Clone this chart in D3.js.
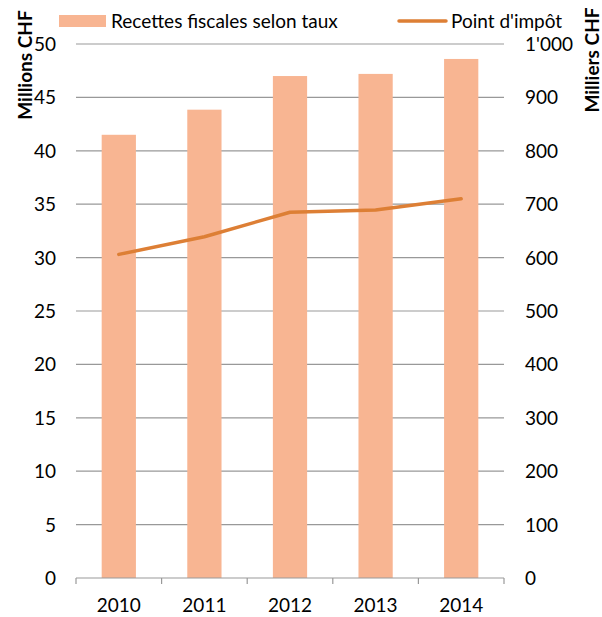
<!DOCTYPE html>
<html>
<head>
<meta charset="utf-8">
<script src="https://cdn.jsdelivr.net/npm/d3@7"></script>
<style>
  body { margin: 0; background: #fff; }
  text { font-family: Lato, "Liberation Sans", sans-serif; fill: #000; }
</style>
</head>
<body>
<div id="chart"></div>
<script>
// data
var years = ["2010", "2011", "2012", "2013", "2014"];
var recettes = [41.5, 43.85, 47.0, 47.2, 48.6];      // Millions CHF (left)
var pointImpot = [606, 639, 685, 689, 710];          // Milliers CHF (right)
var leftTicks = [0, 5, 10, 15, 20, 25, 30, 35, 40, 45, 50];
var rightTicks = [0, 100, 200, 300, 400, 500, 600, 700, 800, 900, 1000];

var barColor = "#f8b592";
var lineColor = "#dd7f35";

var W = 602, H = 617;
var margin = {t: 44, r: 98, b: 39, l: 76};
var width = W - margin.l - margin.r,
    height = H - margin.t - margin.b;

var svg = d3.select("#chart").append("svg")
  .attr("width", W)
  .attr("height", H);

var g = svg.append("g")
  .attr("transform", "translate(" + margin.l + "," + margin.t + ")");

var x = d3.scaleBand().domain(years).range([0, width]).paddingInner(0.6).paddingOuter(0.3);
var yL = d3.scaleLinear().domain([0, 50]).range([height, 0]);
var yR = d3.scaleLinear().domain([0, 1000]).range([height, 0]);

// gridlines
g.selectAll(".grid")
  .data(leftTicks.slice(1))
  .enter().append("line")
  .attr("x1", 0).attr("x2", width)
  .attr("y1", function(d) { return yL(d); })
  .attr("y2", function(d) { return yL(d); })
  .style("stroke", "#999")
  .style("stroke-width", 1.2);

// bars
g.selectAll(".bar")
  .data(recettes)
  .enter().append("rect")
  .attr("x", function(d, i) { return x(years[i]); })
  .attr("width", x.bandwidth())
  .attr("y", function(d) { return yL(d); })
  .attr("height", function(d) { return height - yL(d); })
  .style("fill", barColor);

// bottom axis line + ticks at band boundaries
g.append("line")
  .attr("x1", 0).attr("x2", width)
  .attr("y1", height).attr("y2", height)
  .style("stroke", "#999").style("stroke-width", 1.2);

g.selectAll(".xtick")
  .data(d3.range(years.length + 1))
  .enter().append("line")
  .attr("x1", function(i) { return i * width / years.length; })
  .attr("x2", function(i) { return i * width / years.length; })
  .attr("y1", height).attr("y2", height + 6)
  .style("stroke", "#999").style("stroke-width", 1.2);

g.selectAll(".xlab")
  .data(years)
  .enter().append("text")
  .attr("x", function(d) { return x(d) + x.bandwidth() / 2; })
  .attr("y", height + 34)
  .attr("text-anchor", "middle")
  .style("font-size", "19px")
  .text(function(d) { return d; });

// left axis labels
g.selectAll(".ylab")
  .data(leftTicks)
  .enter().append("text")
  .attr("x", -20)
  .attr("y", function(d) { return yL(d) + 7; })
  .attr("text-anchor", "end")
  .style("font-size", "19px")
  .text(function(d) { return d; });

// right axis labels
var fmtR = function(d) { return d >= 1000 ? "1'000" : d; };
g.selectAll(".yrlab")
  .data(rightTicks)
  .enter().append("text")
  .attr("x", width + 21)
  .attr("y", function(d) { return yR(d) + 7; })
  .attr("text-anchor", "start")
  .style("font-size", "19px")
  .text(fmtR);

// line
var line = d3.line()
  .x(function(d, i) { return x(years[i]) + x.bandwidth() / 2; })
  .y(function(d) { return yR(d); });

g.append("path")
  .datum(pointImpot)
  .attr("d", line)
  .style("fill", "none")
  .style("stroke", lineColor)
  .style("stroke-width", 3.5)
  .style("stroke-linecap", "round")
  .style("stroke-linejoin", "round");

// axis titles
svg.append("text")
  .attr("transform", "translate(32,65) rotate(-90)")
  .attr("text-anchor", "middle")
  .style("font-size", "19px")
  .style("font-weight", "bold")
  .text("Millions CHF");

svg.append("text")
  .attr("transform", "translate(599,60) rotate(-90)")
  .attr("text-anchor", "middle")
  .style("font-size", "19px")
  .style("font-weight", "bold")
  .text("Milliers CHF");

// legend
svg.append("rect")
  .attr("x", 59).attr("y", 15)
  .attr("width", 47).attr("height", 12)
  .style("fill", barColor);
svg.append("text")
  .attr("x", 111).attr("y", 28)
  .style("font-size", "19px")
  .text("Recettes fiscales selon taux");

svg.append("line")
  .attr("x1", 399).attr("x2", 446)
  .attr("y1", 21).attr("y2", 21)
  .style("stroke", lineColor)
  .style("stroke-width", 3.5)
  .style("stroke-linecap", "round");
svg.append("text")
  .attr("x", 451).attr("y", 28)
  .style("font-size", "19px")
  .text("Point d'impôt");
</script>
</body>
</html>
